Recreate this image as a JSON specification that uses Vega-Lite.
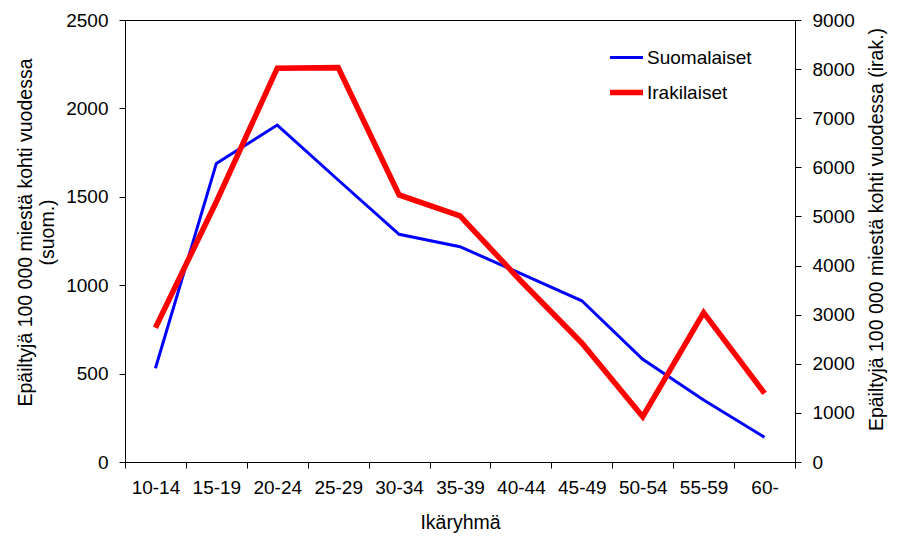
{
  "$schema": "https://vega.github.io/schema/vega-lite/v6.json",
  "width": 670,
  "height": 442,
  "autosize": {"type": "none"},
  "padding": {"left": 125, "top": 20, "right": 114, "bottom": 76},
  "background": "white",
  "config": {
    "font": "Liberation Sans",
    "view": {"stroke": "black", "strokeWidth": 1},
    "axis": {
      "domainColor": "black",
      "tickColor": "black",
      "labelColor": "black",
      "titleColor": "black",
      "labelFont": "Liberation Sans",
      "titleFont": "Liberation Sans",
      "labelFontSize": 19,
      "titleFontSize": 19.5,
      "titleFontWeight": "normal",
      "tickSize": 6,
      "grid": false
    },
    "legend": {
      "labelFont": "Liberation Sans",
      "labelFontSize": 19,
      "labelColor": "black"
    }
  },
  "data": {
    "values": [
      {"age": "10-14", "group": "Suomalaiset", "value": 530},
      {"age": "15-19", "group": "Suomalaiset", "value": 1689},
      {"age": "20-24", "group": "Suomalaiset", "value": 1906},
      {"age": "25-29", "group": "Suomalaiset", "value": 1595},
      {"age": "30-34", "group": "Suomalaiset", "value": 1288},
      {"age": "35-39", "group": "Suomalaiset", "value": 1218},
      {"age": "40-44", "group": "Suomalaiset", "value": 1065},
      {"age": "45-49", "group": "Suomalaiset", "value": 912},
      {"age": "50-54", "group": "Suomalaiset", "value": 581},
      {"age": "55-59", "group": "Suomalaiset", "value": 351},
      {"age": "60-", "group": "Suomalaiset", "value": 140},
      {"age": "10-14", "group": "Irakilaiset", "value": 2735},
      {"age": "15-19", "group": "Irakilaiset", "value": 5300},
      {"age": "20-24", "group": "Irakilaiset", "value": 8018},
      {"age": "25-29", "group": "Irakilaiset", "value": 8030},
      {"age": "30-34", "group": "Irakilaiset", "value": 5438},
      {"age": "35-39", "group": "Irakilaiset", "value": 5010},
      {"age": "40-44", "group": "Irakilaiset", "value": 3686},
      {"age": "45-49", "group": "Irakilaiset", "value": 2424},
      {"age": "50-54", "group": "Irakilaiset", "value": 923},
      {"age": "55-59", "group": "Irakilaiset", "value": 3041},
      {"age": "60-", "group": "Irakilaiset", "value": 1399}
    ]
  },
  "encoding": {
    "x": {
      "field": "age",
      "type": "ordinal",
      "sort": null,
      "scale": {"type": "band", "paddingInner": 0, "paddingOuter": 0},
      "axis": {
        "title": "Ikäryhmä",
        "labelAngle": 0,
        "tickBand": "extent",
        "labelPadding": 10,
        "titleBaseline": "alphabetic",
        "titleY": 66,
        "titleX": 335
      }
    },
    "color": {
      "field": "group",
      "type": "nominal",
      "scale": {"domain": ["Suomalaiset", "Irakilaiset"], "range": ["#0000FF", "#FF0000"]},
      "legend": {
        "title": null,
        "orient": "none",
        "legendX": 492,
        "legendY": 28,
        "padding": 0,
        "symbolType": "stroke",
        "symbolSize": 1089,
        "symbolStrokeWidth": 3,
        "labelOffset": 11,
        "rowPadding": 13,
        "encode": {
          "symbols": {
            "update": {
              "strokeWidth": {"signal": "datum.value === 'Irakilaiset' ? 5.5 : 3"}
            }
          }
        }
      }
    }
  },
  "layer": [
    {
      "transform": [{"filter": "datum.group === 'Suomalaiset'"}],
      "mark": {"type": "line", "strokeWidth": 3, "strokeJoin": "miter"},
      "encoding": {
        "y": {
          "field": "value",
          "type": "quantitative",
          "scale": {"domain": [0, 2500], "nice": false, "zero": true},
          "axis": {
            "orient": "left",
            "values": [0, 500, 1000, 1500, 2000, 2500],
            "format": "d",
            "labelPadding": 11,
            "title": ["Epäiltyjä 100 000 miestä kohti vuodessa", "(suom.)"],
            "titleAngle": -90,
            "titleAlign": "center",
            "titleBaseline": "alphabetic",
            "titleLineHeight": 22,
            "titleX": -94,
            "titleY": 212
          }
        }
      }
    },
    {
      "transform": [{"filter": "datum.group === 'Irakilaiset'"}],
      "mark": {"type": "line", "strokeWidth": 5.5, "strokeJoin": "miter"},
      "encoding": {
        "y": {
          "field": "value",
          "type": "quantitative",
          "scale": {"domain": [0, 9000], "nice": false, "zero": true},
          "axis": {
            "orient": "right",
            "values": [0, 1000, 2000, 3000, 4000, 5000, 6000, 7000, 8000, 9000],
            "format": "d",
            "labelPadding": 11,
            "title": "Epäiltyjä 100 000 miestä kohti vuodessa  (irak.)",
            "titleAngle": -90,
            "titleAlign": "center",
            "titleBaseline": "alphabetic",
            "titleX": 87,
            "titleY": 209
          }
        }
      }
    }
  ],
  "resolve": {"scale": {"y": "independent"}}
}
